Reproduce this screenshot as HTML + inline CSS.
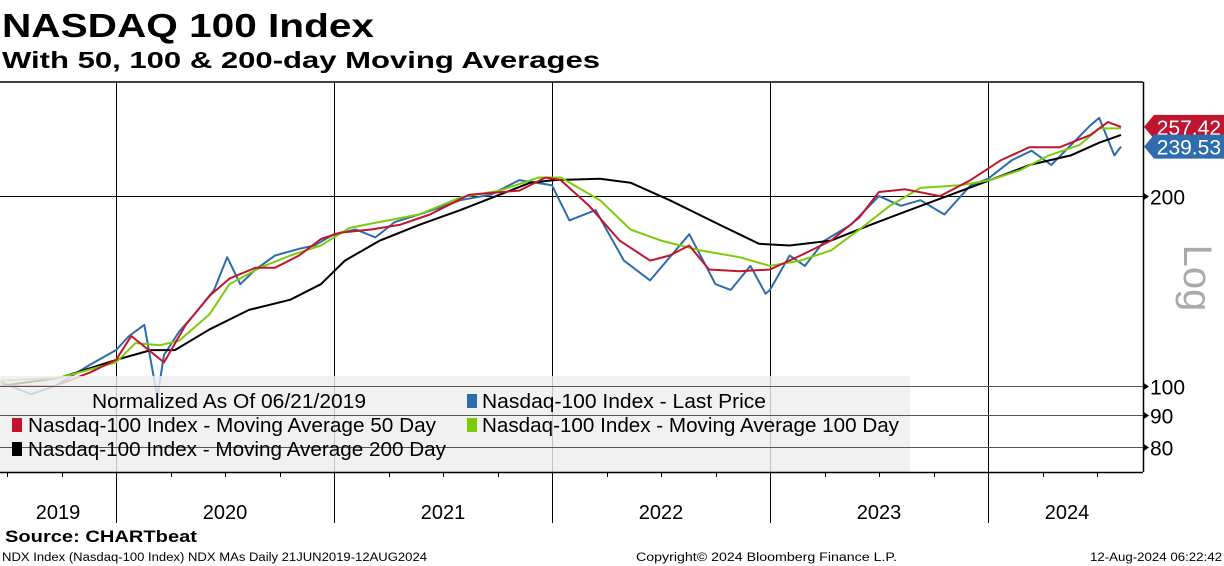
<!DOCTYPE html>
<html><head><meta charset="utf-8">
<style>
html,body{margin:0;padding:0;background:#fff;}
svg{display:block;font-family:"Liberation Sans",sans-serif;}
</style></head>
<body>
<svg id="chart" width="1224" height="566" viewBox="0 0 1224 566">
  <text x="2" y="37" font-size="33" font-weight="bold" textLength="372" lengthAdjust="spacingAndGlyphs">NASDAQ 100 Index</text>
  <text x="2" y="68" font-size="23" font-weight="bold" textLength="598" lengthAdjust="spacingAndGlyphs">With 50, 100 &amp; 200-day Moving Averages</text>
  <g id="grid"></g>
  <g id="series"></g>
  <rect x="0" y="376" width="910" height="96" fill="#eeeeee" fill-opacity="0.82"/>
  <g id="hgrid"></g>
  <g font-size="20">
    <text x="92" y="408" textLength="274" lengthAdjust="spacingAndGlyphs">Normalized As Of 06/21/2019</text>
    <rect x="467" y="394" width="10" height="14" fill="#2e6cad"/>
    <text x="482" y="408" textLength="284" lengthAdjust="spacingAndGlyphs">Nasdaq-100 Index - Last Price</text>
    <rect x="12" y="418" width="10" height="14" fill="#c0152f"/>
    <text x="28" y="432" textLength="408" lengthAdjust="spacingAndGlyphs">Nasdaq-100 Index - Moving Average 50 Day</text>
    <rect x="467" y="418" width="10" height="14" fill="#7dcc0a"/>
    <text x="482" y="432" textLength="417" lengthAdjust="spacingAndGlyphs">Nasdaq-100 Index - Moving Average 100 Day</text>
    <rect x="12" y="442" width="10" height="14" fill="#000"/>
    <text x="28" y="456" textLength="418" lengthAdjust="spacingAndGlyphs">Nasdaq-100 Index - Moving Average 200 Day</text>
  </g>
  <g id="axes"></g>
  <text transform="translate(1184,278) rotate(90)" font-size="40" fill="#aaa" text-anchor="middle">Log</text>
  <g id="tags"></g>
  <text x="5" y="542" font-size="17" font-weight="bold" textLength="192" lengthAdjust="spacingAndGlyphs">Source: CHARTbeat</text>
  <text x="2" y="561" font-size="11.5" textLength="425" lengthAdjust="spacingAndGlyphs">NDX Index (Nasdaq-100 Index) NDX MAs  Daily 21JUN2019-12AUG2024</text>
  <text x="636" y="561" font-size="11.5" textLength="261" lengthAdjust="spacingAndGlyphs">Copyright© 2024 Bloomberg Finance L.P.</text>
  <text x="1090" y="561" font-size="11.5" textLength="132" lengthAdjust="spacingAndGlyphs">12-Aug-2024 06:22:42</text>
</svg>
<script>
const yTicks = [80, 90, 100, 200];
const yearLabels = [2019, 2020, 2021, 2022, 2023, 2024];
const priceDates = [2019.47,2019.61,2019.72,2019.88,2020.0,2020.06,2020.13,2020.19,2020.22,2020.29,2020.36,2020.45,2020.51,2020.57,2020.64,2020.73,2020.84,2020.91,2021.0,2021.10,2021.19,2021.28,2021.39,2021.49,2021.58,2021.72,2021.85,2022.0,2022.08,2022.20,2022.33,2022.45,2022.63,2022.75,2022.82,2022.91,2022.98,2023.0,2023.09,2023.16,2023.25,2023.37,2023.50,2023.60,2023.69,2023.80,2023.92,2024.0,2024.11,2024.20,2024.29,2024.36,2024.47,2024.51,2024.56,2024.58,2024.61];
const priceValues = [101.5,97,100,108,114,120,125,96,112,122,130,142,160,145,153,161,165,167,174,177,172,182,187,192,197,201,212,208,183,190,158,147,174,145,142,155,140,142,161,155,170,180,200,193,197,187,208,213,228,236,224,237,259,266,241,232,239.53];
const ma50Dates = [2019.47,2019.72,2019.88,2020.0,2020.07,2020.22,2020.32,2020.43,2020.52,2020.64,2020.73,2020.84,2020.94,2021.03,2021.17,2021.30,2021.44,2021.62,2021.85,2021.97,2022.04,2022.17,2022.31,2022.45,2022.54,2022.63,2022.72,2022.86,2023.0,2023.14,2023.28,2023.41,2023.50,2023.62,2023.78,2023.92,2024.06,2024.19,2024.33,2024.47,2024.55,2024.61];
const ma50Values = [100,100,105,110,120,109,125,139,148,154,154,161,171,175,177,180,187,201,204,214,212,193,170,158,161,167,153,152,153,161,170,185,203,205,200,212,228,239,239,250,262,257.42];
const ma100Dates = [2019.47,2019.74,2020.0,2020.09,2020.20,2020.29,2020.43,2020.52,2020.66,2020.80,2020.94,2021.07,2021.21,2021.39,2021.58,2021.76,2021.94,2022.04,2022.22,2022.36,2022.50,2022.68,2022.86,2023.0,2023.14,2023.28,2023.41,2023.55,2023.69,2023.87,2024.01,2024.15,2024.28,2024.42,2024.51,2024.61];
const ma100Values = [102,103,109,117,116,118,130,145,154,161,167,178,182,187,199,204,214,214,197,177,170,164,160,155,158,164,177,193,206,208,212,220,232,241,256,256];
const ma200Dates = [2019.47,2019.74,2020.0,2020.16,2020.27,2020.43,2020.61,2020.80,2020.94,2021.05,2021.21,2021.39,2021.58,2021.76,2021.90,2022.01,2022.22,2022.36,2022.54,2022.77,2022.95,2023.09,2023.28,2023.46,2023.64,2023.83,2024.01,2024.19,2024.38,2024.51,2024.61];
const ma200Values = [100,103,110,114,114,123,132,137,145,158,170,180,190,201,210,212,213,210,197,180,168,167,170,180,190,201,212,224,232,243,250];

const NS = 'http://www.w3.org/2000/svg';
const PX_PER_YEAR = 218, X2020 = 116, PLOT_TOP = 82, PLOT_BOTTOM = 472, PLOT_RIGHT = 1143;
const PX_PER_DECADE = 631, Y100 = 386;
function xScale(t){ return X2020 + (t - 2020) * PX_PER_YEAR; }
function yScale(v){ return Y100 - Math.log10(v / 100) * PX_PER_DECADE; }
function mk(tag, attrs, parent){ const e = document.createElementNS(NS, tag); for (const k in attrs) e.setAttribute(k, attrs[k]); parent.appendChild(e); return e; }

const gridG = document.getElementById('grid');
const hgridG = document.getElementById('hgrid');
const axesG = document.getElementById('axes');
const seriesG = document.getElementById('series');
const tagsG = document.getElementById('tags');

const topBorder = mk('line', {x1:0, y1:PLOT_TOP, x2:PLOT_RIGHT, y2:PLOT_TOP, stroke:'#000', 'stroke-width':1.5}, axesG);



for (let yr = 2020; yr <= 2024; yr++) {
  const x = Math.round(xScale(yr)) + 0.5;
  const l = mk('line', {x1:x, y1:PLOT_TOP, x2:x, y2:523, stroke:'#000', 'stroke-width':1}, gridG);
  
  
}
yTicks.forEach(v => {
  const y = Math.round(yScale(v)) + 0.5;
  const l = mk('line', {x1:0, y1:y, x2:PLOT_RIGHT, y2:y, stroke:(v < 150 ? '#555' : '#000'), 'stroke-width':1}, v < 150 ? hgridG : gridG);
  
  
  const a = mk('path', {d:`M${PLOT_RIGHT} ${y-4} L${PLOT_RIGHT+6} ${y} L${PLOT_RIGHT} ${y+4}Z`, fill:'#000'}, axesG);
  
  
  const t = mk('text', {x:PLOT_RIGHT+7, y:y+8, 'font-size':21}, axesG);
  t.textContent = v;
  
  
});
const ra = mk('line', {x1:PLOT_RIGHT+0.5, y1:PLOT_TOP, x2:PLOT_RIGHT+0.5, y2:PLOT_BOTTOM, stroke:'#000', 'stroke-width':1.5}, axesG);


const xa = mk('line', {x1:0, y1:PLOT_BOTTOM+0.5, x2:PLOT_RIGHT, y2:PLOT_BOTTOM+0.5, stroke:'#000', 'stroke-width':1.5}, axesG);


for (let q = 2019.5; q <= 2024.76; q += 0.25) {
  const x = Math.round(xScale(q)) + 0.5;
  if (x < 1 || x > PLOT_RIGHT) continue;
  const tk = mk('line', {x1:x, y1:PLOT_BOTTOM, x2:x, y2:PLOT_BOTTOM+5, stroke:'#000', 'stroke-width':1}, axesG);
  
  
}
yearLabels.forEach(yr => {
  const a = Math.max(0, xScale(yr)), b = Math.min(xScale(yr + 1), xScale(2024.61) + 25);
  const t = mk('text', {x:(a + b) / 2, y:519, 'font-size':20, 'text-anchor':'middle'}, axesG);
  t.textContent = yr;
  
  
});

function drawLine(dates, vals, color, w, name){
  const d = dates.map((t, i) => (i ? 'L' : 'M') + xScale(t).toFixed(1) + ' ' + yScale(vals[i]).toFixed(1)).join(' ');
  const p = mk('path', {d, fill:'none', stroke:color, 'stroke-width':w, 'stroke-linejoin':'round'}, seriesG);
  
  
}
drawLine(priceDates, priceValues, '#2e6cad', 2, 'price-line');
drawLine(ma200Dates, ma200Values, '#000', 2, 'ma200-line');
drawLine(ma100Dates, ma100Values, '#7dcc0a', 2, 'ma100-line');
drawLine(ma50Dates, ma50Values, '#c0152f', 2, 'ma50-line');

function drawTag(v, color, name){
  const y = yScale(v);
  const g = mk('g', {}, tagsG);
  
  
  mk('path', {d:`M${PLOT_RIGHT+1} ${y} L${PLOT_RIGHT+11} ${y-12} L1224 ${y-12} L1224 ${y+12} L${PLOT_RIGHT+11} ${y+12}Z`, fill:color}, g);
  const t = mk('text', {x:1221, y:y+8, 'font-size':21, fill:'#fff', 'text-anchor':'end'}, g);
  t.textContent = v.toFixed(2);
}
drawTag(ma50Values[ma50Values.length - 1], '#c0152f', 'tag-ma50');
drawTag(priceValues[priceValues.length - 1], '#2e6cad', 'tag-price');
</script>
</body></html>
